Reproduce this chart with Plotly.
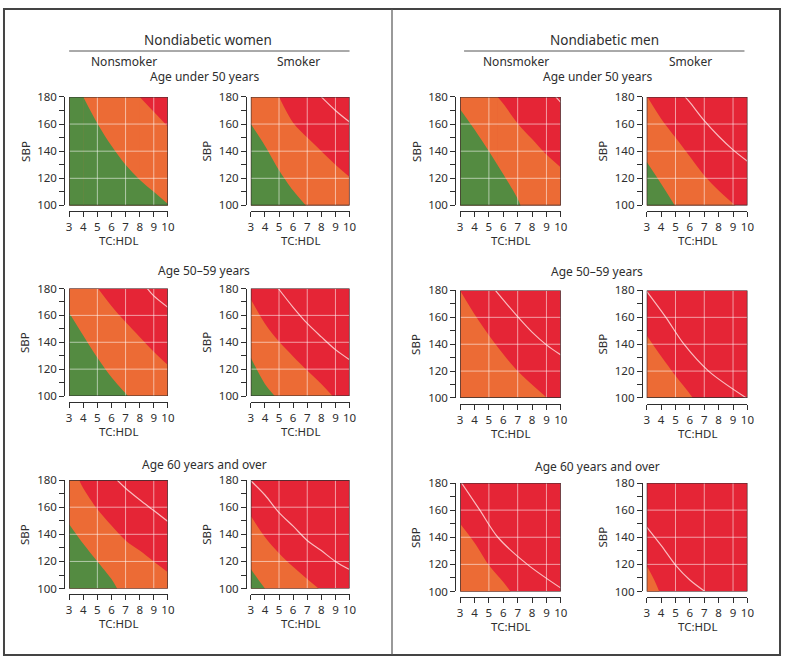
import plotly.graph_objects as go

W, H = 788, 663
FONT = 'Noto Sans'
INK = '#2e2e2e'
GREEN = '#548b41'
ORANGE = '#ec6b35'
RED = '#e52536'
GRID_COLOR = 'rgba(255,255,255,0.55)'
CONTOUR_COLOR = 'rgba(255,225,225,0.8)'

X_TICKS = [3, 4, 5, 6, 7, 8, 9, 10]
Y_TICKS = [100, 110, 120, 130, 140, 150, 160, 170, 180]
Y_LABELS = ['100', '', '120', '', '140', '', '160', '', '180']
GRID_X = [5, 7, 9]
GRID_Y = [120, 140, 160]

SEX_TITLES = ['Nondiabetic women', 'Nondiabetic men']
SMOKING = ['Nonsmoker', 'Smoker']
AGE_GROUPS = ['Age under 50 years', 'Age 50\u201359 years', 'Age 60 years and over']

# boundaries as (TC:HDL values, SBP values)
# GREEN = green/orange edge, RED = orange/red edge, LINE = pale contour inside red
W1_NS_GREEN = ([4.0, 5, 6, 7, 8, 9, 10], [180, 160.5, 144, 130, 119, 110, 101])
W1_NS_RED = ([8.0, 9, 10], [180, 169, 158])
W1_NS_LINE = ([], [])
W1_S_GREEN = ([3, 4, 5, 6, 6.9], [160, 144, 126, 111, 100])
W1_S_RED = ([5.0, 6, 7, 8, 9, 10], [180, 161, 150, 140, 130, 121])
W1_S_LINE = ([8.0, 9, 10], [180, 170, 161.5])

M1_NS_GREEN = ([3, 4, 5, 6, 7, 7.2], [171, 156, 140, 123, 105, 100])
M1_NS_RED = ([5.6, 6, 7, 8, 9, 10], [180, 175, 160.5, 149, 137.5, 128])
M1_NS_LINE = ([9.65, 10], [180, 176])
M1_S_GREEN = ([3, 4, 4.95], [132, 116, 100])
M1_S_RED = ([3.05, 4, 5, 6, 7, 8, 9.15], [180, 164, 150, 136, 122, 111, 100])
M1_S_LINE = ([5.67, 6, 7, 8, 9, 10], [180, 176, 162.5, 151, 141, 132.6])

W2_NS_GREEN = ([3, 4, 5, 6, 7, 7.15], [162, 145, 128.5, 114, 102, 100])
W2_NS_RED = ([5.05, 6, 7, 8, 9, 10], [180, 167, 155, 144, 133, 123])
W2_NS_LINE = ([8.55, 9, 10], [180, 174.5, 166])
W2_S_GREEN = ([3, 4, 4.7], [128.5, 109, 100])
W2_S_RED = ([3, 4, 5, 6, 7, 8, 8.8], [172, 154, 140.5, 129.5, 119, 109, 100])
W2_S_LINE = ([4.95, 6, 7, 8, 9, 10], [180, 166, 154, 144, 134.5, 127])

M2_NS_GREEN = ([], [])
M2_NS_RED = ([3, 4.14, 5.46, 7.0, 9.05], [180, 160, 140, 120, 100])
M2_NS_LINE = ([5.45, 6, 7, 8, 9, 10], [180, 173, 160.5, 149, 139.5, 132])
M2_S_GREEN = ([], [])
M2_S_RED = ([3, 4, 5, 6, 6.2], [146.5, 131, 116.5, 103, 100])
M2_S_LINE = ([3, 4.33, 5.59, 7.3, 9.93], [179.3, 160, 140, 120, 100])

W3_NS_GREEN = ([3, 4, 5, 6, 6.4], [147.5, 133, 120, 107, 100])
W3_NS_RED = ([3.7, 4, 5, 6, 7, 8, 9, 10], [180, 174, 158.5, 146.5, 135.5, 128, 120, 112])
W3_NS_LINE = ([6.4, 7, 8, 9, 10], [180, 174, 165.5, 157.5, 149.5])
W3_S_GREEN = ([3, 3.5, 4.0], [114.5, 107, 100])
W3_S_RED = ([3, 4, 5, 6, 7, 7.8], [153.5, 138, 126, 116, 107, 100])
W3_S_LINE = ([3, 4, 5, 6, 7, 8, 9, 10], [179.5, 169, 156, 146, 135.5, 128, 120, 114])

M3_NS_GREEN = ([], [])
M3_NS_RED = ([3, 4, 5, 6, 6.5], [150, 136, 119.5, 107, 100])
M3_NS_LINE = ([3.1, 4.37, 5.62, 7.67, 10], [180, 160, 140, 120, 102.5])
M3_S_GREEN = ([], [])
M3_S_RED = ([3, 3.5, 3.87], [119, 109, 100])
M3_S_LINE = ([3, 4, 5, 6, 7.05], [147.5, 134, 119.5, 108.5, 100])

PANELS = [
    # (sex, age row, smoking col, green, red, line)
    (0, 0, 0, W1_NS_GREEN, W1_NS_RED, W1_NS_LINE),
    (0, 0, 1, W1_S_GREEN, W1_S_RED, W1_S_LINE),
    (1, 0, 0, M1_NS_GREEN, M1_NS_RED, M1_NS_LINE),
    (1, 0, 1, M1_S_GREEN, M1_S_RED, M1_S_LINE),
    (0, 1, 0, W2_NS_GREEN, W2_NS_RED, W2_NS_LINE),
    (0, 1, 1, W2_S_GREEN, W2_S_RED, W2_S_LINE),
    (1, 1, 0, M2_NS_GREEN, M2_NS_RED, M2_NS_LINE),
    (1, 1, 1, M2_S_GREEN, M2_S_RED, M2_S_LINE),
    (0, 2, 0, W3_NS_GREEN, W3_NS_RED, W3_NS_LINE),
    (0, 2, 1, W3_S_GREEN, W3_S_RED, W3_S_LINE),
    (1, 2, 0, M3_NS_GREEN, M3_NS_RED, M3_NS_LINE),
    (1, 2, 1, M3_S_GREEN, M3_S_RED, M3_S_LINE),
]

# pixel geometry of the plot boxes
COLS = [[(67, 167), (251, 351)], [(463, 565), (652, 754)]]
ROWS = [[(91, 202), (287, 397), (483, 594)], [(91, 202), (289, 399), (486, 597)]]
HEAD_X = [208, 609]
RULE_X = [(67, 351), (467, 751)]
SMOKE_X = [[123, 299], [520, 696]]
AGE_X = [204, 602]
AGE_Y = [[70, 269, 467], [70, 270, 469]]


def fx(px):
    return px / W


def fy(py):
    return 1 - py / H


def add_region(fig, xs, ys, color, xa, ya):
    if not xs:
        return
    if ys[0] >= 180 and xs[0] > 3:
        fig.add_trace(go.Scatter(
            x=[3, xs[0] + 0.03], y=[180, 180], mode='lines', fill='tozeroy',
            fillcolor=color, line=dict(width=0, color=color),
            xaxis=xa, yaxis=ya, hoverinfo='skip', showlegend=False))
    fig.add_trace(go.Scatter(
        x=xs, y=ys, mode='lines', fill='tozeroy', fillcolor=color,
        line=dict(width=0, color=color, shape='spline', smoothing=0.9),
        xaxis=xa, yaxis=ya, hoverinfo='skip', showlegend=False))


fig = go.Figure()
axes = {}
shapes = []
annotations = []


def text(x, y, s, size=12, angle=0):
    annotations.append(dict(
        x=fx(x), y=fy(y), xref='paper', yref='paper', text=s, showarrow=False,
        xanchor='center', yanchor='middle', textangle=angle,
        font=dict(family=FONT, size=size, color=INK)))


for i, (sex, row, col, green, red, line) in enumerate(PANELS):
    n = i + 1
    xa = 'x' if n == 1 else f'x{n}'
    ya = 'y' if n == 1 else f'y{n}'
    l, r = COLS[sex][col]
    t, b = ROWS[sex][row]

    shapes.append(dict(type='rect', xref=xa, yref=ya, x0=3, x1=10, y0=100, y1=180,
                       fillcolor=RED, line=dict(width=0), layer='below'))
    add_region(fig, *red, ORANGE, xa, ya)
    add_region(fig, *green, GREEN, xa, ya)
    if line[0]:
        fig.add_trace(go.Scatter(
            x=line[0], y=line[1], mode='lines',
            line=dict(width=1.2, color=CONTOUR_COLOR, shape='spline', smoothing=0.9),
            xaxis=xa, yaxis=ya, hoverinfo='skip', showlegend=False))

    for gx in GRID_X:
        shapes.append(dict(type='line', xref=xa, yref=ya, x0=gx, x1=gx, y0=100, y1=180,
                           line=dict(color=GRID_COLOR, width=1), layer='above'))
    for gy in GRID_Y:
        shapes.append(dict(type='line', xref=xa, yref=ya, x0=3, x1=10, y0=gy, y1=gy,
                           line=dict(color=GRID_COLOR, width=1), layer='above'))
    shapes.append(dict(type='rect', xref=xa, yref=ya, x0=3, x1=10, y0=100, y1=180,
                       line=dict(color=INK, width=1.2), layer='above'))

    key = '' if n == 1 else str(n)
    axes['xaxis' + key] = dict(
        domain=[fx(l), fx(r)], range=[3, 10], anchor='free', position=fy(b + 6),
        showline=True, linecolor=INK, linewidth=1, ticks='outside', ticklen=5,
        tickcolor=INK, tickvals=X_TICKS, showgrid=False, zeroline=False,
        tickfont=dict(family=FONT, size=11.5, color=INK), fixedrange=True)
    axes['yaxis' + key] = dict(
        domain=[fy(b), fy(t)], range=[100, 180], anchor='free', position=fx(l - 5),
        showline=True, linecolor=INK, linewidth=1, ticks='outside', ticklen=5,
        tickcolor=INK, tickvals=Y_TICKS, ticktext=Y_LABELS, showgrid=False,
        zeroline=False, tickfont=dict(family=FONT, size=11.5, color=INK),
        fixedrange=True)

    text(l - 45, (t + b) / 2, 'SBP', size=11.5, angle=-90)
    text((l + r) / 2, b + 36, 'TC:HDL', size=11.5)

for sex in range(2):
    text(HEAD_X[sex], 33, SEX_TITLES[sex], size=13.5)
    x0, x1 = RULE_X[sex]
    shapes.append(dict(type='line', xref='paper', yref='paper', x0=fx(x0), x1=fx(x1),
                       y0=fy(44), y1=fy(44), line=dict(color='#555', width=1)))
    for col in range(2):
        text(SMOKE_X[sex][col], 55, SMOKING[col], size=12)
    for row in range(3):
        text(AGE_X[sex], AGE_Y[sex][row], AGE_GROUPS[row], size=12)

# outer frame and divider
shapes.append(dict(type='rect', xref='paper', yref='paper', x0=fx(1), x1=fx(787),
                   y0=fy(662), y1=fy(1), line=dict(color='#444', width=2)))
shapes.append(dict(type='line', xref='paper', yref='paper', x0=fx(394), x1=fx(394),
                   y0=fy(662), y1=fy(1), line=dict(color='#555', width=1.2)))

fig.update_layout(
    width=W, height=H, autosize=False,
    margin=dict(l=0, r=0, t=0, b=0),
    paper_bgcolor='white', plot_bgcolor='white',
    showlegend=False, shapes=shapes, annotations=annotations,
    **axes,
)

# drop the page's default body margin so the figure fills the window exactly
fig.write_html('out.html', config={'displayModeBar': False},
               post_script="document.body.style.margin='0';"
                           "document.body.style.overflow='hidden';")
